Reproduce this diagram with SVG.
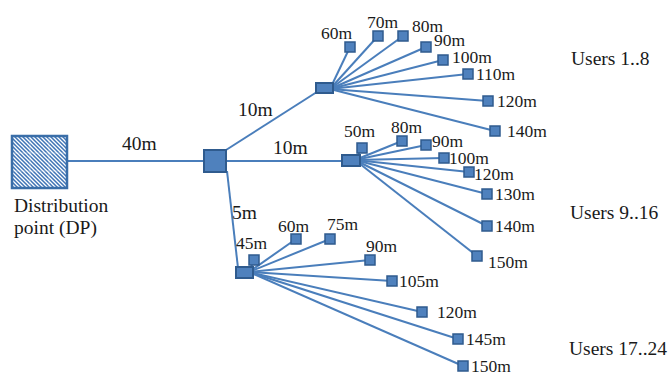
<svg xmlns="http://www.w3.org/2000/svg" width="671" height="375" viewBox="0 0 671 375">
<style>
.ln{stroke:#4a7ebb;stroke-width:2;fill:none}
.leaf{fill:#4f81bd;stroke:#2f5b8e;stroke-width:1.5}
.hub{fill:#4f81bd;stroke:#2f5b8e;stroke-width:2}
.t{font-family:"Liberation Serif","Times New Roman",serif;fill:#1a1a1a;font-size:17.5px}
.tl{font-family:"Liberation Serif","Times New Roman",serif;fill:#1a1a1a;font-size:19.5px}
</style>
<defs>
<pattern id="hatch" patternUnits="userSpaceOnUse" width="4" height="4">
<rect width="4" height="4" fill="#3f74b5"/>
<path d="M-1,-1 L5,5 M-1,3 L1,5 M3,-1 L5,1" stroke="#ffffff" stroke-width="1.3"/>
</pattern>
</defs>
<rect width="671" height="375" fill="#ffffff"/>
<g id="connectors">
<line class="ln" x1="68" y1="161" x2="204" y2="161"/>
<line class="ln" x1="226" y1="150" x2="320" y2="90"/>
<line class="ln" x1="226" y1="161" x2="344" y2="161"/>
<line class="ln" x1="227" y1="171" x2="238" y2="268"/>
<g id="top-fan">
<line class="ln" x1="330" y1="89" x2="350" y2="47"/>
<line class="ln" x1="330" y1="89" x2="378" y2="36"/>
<line class="ln" x1="330" y1="89" x2="403" y2="36"/>
<line class="ln" x1="330" y1="89" x2="426" y2="47"/>
<line class="ln" x1="330" y1="89" x2="443" y2="60"/>
<line class="ln" x1="330" y1="89" x2="468" y2="74"/>
<line class="ln" x1="330" y1="89" x2="488" y2="101"/>
<line class="ln" x1="330" y1="89" x2="495" y2="131"/>
</g>
<g id="mid-fan">
<line class="ln" x1="355" y1="160" x2="362" y2="148"/>
<line class="ln" x1="355" y1="160" x2="402" y2="141"/>
<line class="ln" x1="355" y1="160" x2="426" y2="145"/>
<line class="ln" x1="355" y1="160" x2="444" y2="158"/>
<line class="ln" x1="355" y1="160" x2="469" y2="172"/>
<line class="ln" x1="355" y1="160" x2="487" y2="194"/>
<line class="ln" x1="355" y1="160" x2="487" y2="226"/>
<line class="ln" x1="355" y1="160" x2="477" y2="256"/>
</g>
<g id="bot-fan">
<line class="ln" x1="249" y1="272" x2="254" y2="260"/>
<line class="ln" x1="249" y1="272" x2="296" y2="239"/>
<line class="ln" x1="249" y1="272" x2="330" y2="239"/>
<line class="ln" x1="249" y1="272" x2="370" y2="260"/>
<line class="ln" x1="249" y1="272" x2="392" y2="281"/>
<line class="ln" x1="249" y1="272" x2="422" y2="312"/>
<line class="ln" x1="249" y1="272" x2="458" y2="339"/>
<line class="ln" x1="249" y1="272" x2="463" y2="366"/>
</g>
</g>
<g id="dp">
<rect x="12" y="136" width="55" height="52" fill="url(#hatch)" stroke="#3a6ea8" stroke-width="2.5"/>
<path d="M30,137 V187 M49,137 V187 M13,153 H66 M13,171 H66" stroke="#ffffff" stroke-opacity="0.35" stroke-width="1"/>
<text class="tl" x="14" y="212">Distribution</text>
<text class="tl" x="14" y="234">point (DP)</text>
</g>
<g id="main-node"><rect class="hub" x="204" y="150" width="22" height="22"/></g>
<g id="hub-top"><rect class="hub" x="316" y="83" width="17" height="10"/></g>
<g id="hub-mid"><rect class="hub" x="342" y="155" width="18" height="11"/></g>
<g id="hub-bot"><rect class="hub" x="236" y="267" width="17" height="11"/></g>
<g id="link-labels">
<text class="tl" x="122" y="150">40m</text>
<text class="tl" x="238" y="116">10m</text>
<text class="tl" x="273" y="154">10m</text>
<text class="tl" x="232" y="219">5m</text>
</g>
<g id="leaves-top">
<rect class="leaf" x="345" y="42" width="10" height="10"/><text class="t" x="321" y="39">60m</text>
<rect class="leaf" x="373" y="31" width="10" height="10"/><text class="t" x="367" y="28">70m</text>
<rect class="leaf" x="398" y="31" width="10" height="10"/><text class="t" x="412" y="32">80m</text>
<rect class="leaf" x="421" y="42" width="10" height="10"/><text class="t" x="434" y="46">90m</text>
<rect class="leaf" x="438" y="55" width="10" height="10"/><text class="t" x="452" y="63">100m</text>
<rect class="leaf" x="463" y="69" width="10" height="10"/><text class="t" x="476" y="80">110m</text>
<rect class="leaf" x="483" y="96" width="10" height="10"/><text class="t" x="497" y="107">120m</text>
<rect class="leaf" x="490" y="126" width="10" height="10"/><text class="t" x="507" y="137">140m</text>
</g>
<g id="leaves-mid">
<rect class="leaf" x="357" y="143" width="10" height="10"/><text class="t" x="344" y="137">50m</text>
<rect class="leaf" x="397" y="136" width="10" height="10"/><text class="t" x="391" y="133">80m</text>
<rect class="leaf" x="421" y="140" width="10" height="10"/><text class="t" x="432" y="147">90m</text>
<rect class="leaf" x="439" y="153" width="10" height="10"/><text class="t" x="449" y="164">100m</text>
<rect class="leaf" x="464" y="167" width="10" height="10"/><text class="t" x="474" y="180">120m</text>
<rect class="leaf" x="482" y="189" width="10" height="10"/><text class="t" x="495" y="200">130m</text>
<rect class="leaf" x="482" y="221" width="10" height="10"/><text class="t" x="495" y="232">140m</text>
<rect class="leaf" x="472" y="251" width="10" height="10"/><text class="t" x="488" y="268">150m</text>
</g>
<g id="leaves-bot">
<rect class="leaf" x="249" y="255" width="10" height="10"/><text class="t" x="236" y="249">45m</text>
<rect class="leaf" x="291" y="234" width="10" height="10"/><text class="t" x="278" y="232">60m</text>
<rect class="leaf" x="325" y="234" width="10" height="10"/><text class="t" x="327" y="230">75m</text>
<rect class="leaf" x="365" y="255" width="10" height="10"/><text class="t" x="366" y="252">90m</text>
<rect class="leaf" x="387" y="276" width="10" height="10"/><text class="t" x="399" y="287">105m</text>
<rect class="leaf" x="417" y="307" width="10" height="10"/><text class="t" x="437" y="318">120m</text>
<rect class="leaf" x="453" y="334" width="10" height="10"/><text class="t" x="466" y="345">145m</text>
<rect class="leaf" x="458" y="361" width="10" height="10"/><text class="t" x="471" y="372">150m</text>
</g>
<g id="user-labels">
<text class="tl" x="571" y="65">Users 1..8</text>
<text class="tl" x="570" y="219">Users 9..16</text>
<text class="tl" x="569" y="355">Users 17..24</text>
</g>
</svg>
